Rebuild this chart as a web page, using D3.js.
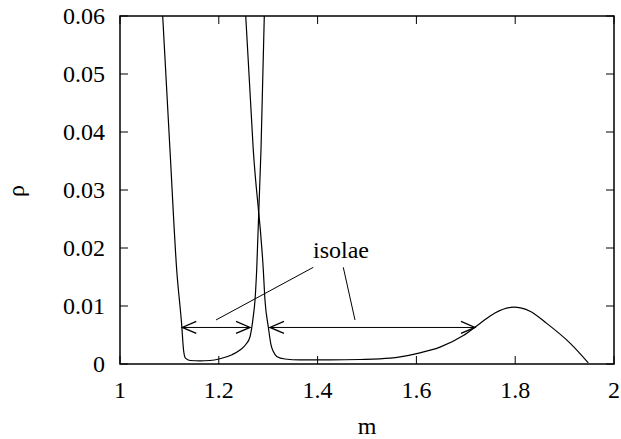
<!DOCTYPE html>
<html>
<head>
<meta charset="utf-8">
<script src="https://cdn.jsdelivr.net/npm/d3@7"></script>
<style>
  body { margin: 0; background: #fff; }
  text { font-family: "Liberation Serif", "Times New Roman", serif; fill: #000; }
</style>
</head>
<body>
<svg id="chart" width="621" height="439"></svg>
<script>
// ---- data ----
const xTicks = [1, 1.2, 1.4, 1.6, 1.8, 2];
const yTicks = [0, 0.01, 0.02, 0.03, 0.04, 0.05, 0.06];
const xTickLabels = ["1", "1.2", "1.4", "1.6", "1.8", "2"];
const yTickLabels = ["0", "0.01", "0.02", "0.03", "0.04", "0.05", "0.06"];

// left branch (U shaped)
const curveA_m   = [1.0864, 1.1012, 1.1148, 1.1249, 1.1285, 1.1325, 1.1417, 1.162, 1.182, 1.2024, 1.2267, 1.2429, 1.255, 1.2632, 1.2698, 1.2733, 1.2767, 1.2854, 1.2921];
const curveA_rho = [0.060, 0.0369, 0.0162, 0.0067, 0.0025, 0.0010, 0.0006, 0.00055, 0.0006, 0.0009, 0.0016, 0.0024, 0.0034, 0.0047, 0.0082, 0.011, 0.0162, 0.0369, 0.060];

// right branch
const curveB_m   = [1.2545, 1.2698, 1.2901, 1.2935, 1.3002, 1.3057, 1.3107, 1.3172, 1.334, 1.3644, 1.425, 1.4858, 1.5466, 1.6006, 1.6478, 1.695, 1.7287, 1.759, 1.7962, 1.83, 1.8638, 1.911, 1.948];
const curveB_rho = [0.060, 0.0369, 0.0162, 0.011, 0.0064, 0.0033, 0.0021, 0.0013, 0.00086, 0.0007, 0.0007, 0.00078, 0.001, 0.0018, 0.0029, 0.0049, 0.007, 0.0088, 0.0098, 0.0091, 0.007, 0.0036, 0.0002];

// annotations
const arrowsM = [[1.1261, 1.2632], [1.3036, 1.7186]];
const arrowRho = 0.0063;
const labelText = "isolae";
const labelPos = [1.3907, 0.01828];
const pointerLines = [[[1.3913, 0.01667], [1.1943, 0.00759]], [[1.4520, 0.01667], [1.4757, 0.00759]]];

// ---- layout ----
const svg = d3.select("#chart");
const L = 120, R = 614, T = 16, B = 364;
const x = d3.scaleLinear().domain([1, 2]).range([L, R]);
const y = d3.scaleLinear().domain([0, 0.06]).range([B, T]);
const FS = 24;

svg.append("defs").append("clipPath").attr("id", "clip")
  .append("rect").attr("x", L).attr("y", T).attr("width", R - L).attr("height", B - T);

// ticks (inward, on all four sides)
const tl = 8;
const g = svg.append("g").attr("stroke", "#000").attr("stroke-width", 1);
xTicks.forEach(v => {
  g.append("line").attr("x1", x(v)).attr("x2", x(v)).attr("y1", B).attr("y2", B - tl);
  g.append("line").attr("x1", x(v)).attr("x2", x(v)).attr("y1", T).attr("y2", T + tl);
});
yTicks.forEach(v => {
  g.append("line").attr("x1", L).attr("x2", L + tl).attr("y1", y(v)).attr("y2", y(v));
  g.append("line").attr("x1", R).attr("x2", R - tl).attr("y1", y(v)).attr("y2", y(v));
});

// tick labels
xTicks.forEach((v, i) => {
  svg.append("text").attr("x", x(v)).attr("y", 398).attr("text-anchor", "middle")
    .attr("font-size", FS).text(xTickLabels[i]);
});
yTicks.forEach((v, i) => {
  svg.append("text").attr("x", 105).attr("y", y(v) + 8).attr("text-anchor", "end")
    .attr("font-size", FS).text(yTickLabels[i]);
});

// axis labels
svg.append("text").attr("x", (L + R) / 2).attr("y", 434).attr("text-anchor", "middle")
  .attr("font-size", FS).text("m");
svg.append("text").attr("transform", "translate(24,191) rotate(-90)").attr("text-anchor", "middle")
  .attr("font-size", FS).text("ρ");

// curves
const line = d3.line().x(d => x(d[0])).y(d => y(d[1])).curve(d3.curveMonotoneX);
const cg = svg.append("g").attr("clip-path", "url(#clip)");
[[curveA_m, curveA_rho], [curveB_m, curveB_rho]].forEach(([ms, rs]) => {
  cg.append("path").datum(ms.map((m, i) => [m, rs[i]]))
    .attr("d", line).attr("fill", "none").attr("stroke", "#000").attr("stroke-width", 1.2);
});

// double arrows with open heads
const hl = 14, hw = 6;
arrowsM.forEach(([m1, m2]) => {
  const x1 = x(m1), x2 = x(m2), yy = y(arrowRho);
  svg.append("line").attr("x1", x1).attr("x2", x2).attr("y1", yy).attr("y2", yy)
    .attr("stroke", "#000").attr("stroke-width", 1);
  svg.append("path").attr("d", `M${x1 + hl},${yy - hw}L${x1},${yy}L${x1 + hl},${yy + hw}`)
    .attr("fill", "none").attr("stroke", "#000").attr("stroke-width", 1.3);
  svg.append("path").attr("d", `M${x2 - hl},${yy - hw}L${x2},${yy}L${x2 - hl},${yy + hw}`)
    .attr("fill", "none").attr("stroke", "#000").attr("stroke-width", 1.3);
});

// pointer lines and label
pointerLines.forEach(([a, b]) => {
  svg.append("line").attr("x1", x(a[0])).attr("y1", y(a[1])).attr("x2", x(b[0])).attr("y2", y(b[1]))
    .attr("stroke", "#000").attr("stroke-width", 1);
});
svg.append("text").attr("x", x(labelPos[0])).attr("y", y(labelPos[1])).attr("font-size", FS).text(labelText);

// frame
svg.append("rect").attr("x", L).attr("y", T).attr("width", R - L).attr("height", B - T)
  .attr("fill", "none").attr("stroke", "#000").attr("stroke-width", 1.5);
</script>
</body>
</html>
